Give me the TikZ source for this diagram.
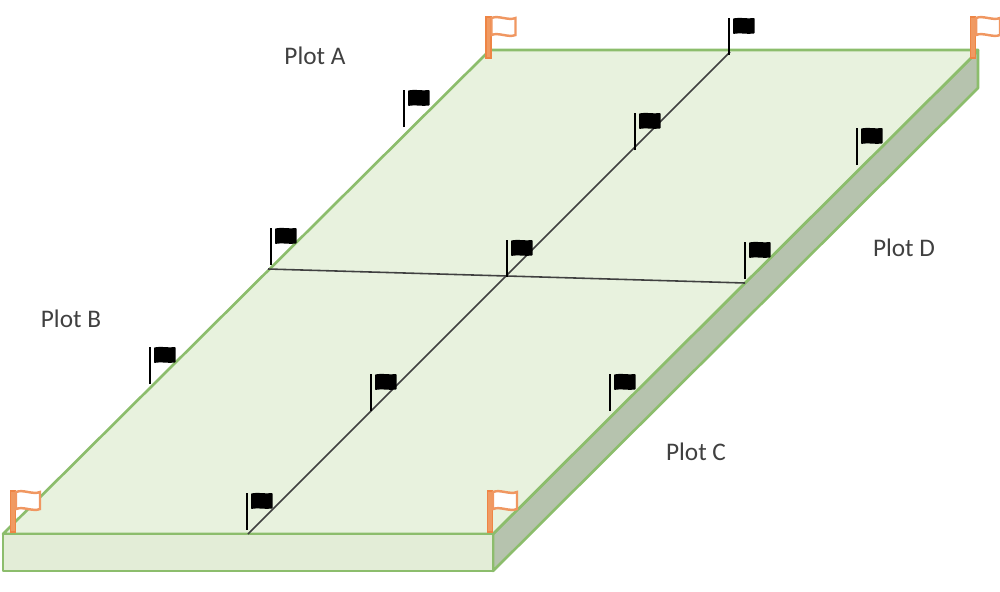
\documentclass[tikz,border=0pt]{standalone}
\usepackage{fontspec}
\setmainfont{Carlito}
\usepackage{tikz}

\definecolor{plotgreen}{HTML}{8CBD6C}
\definecolor{plotfill}{HTML}{E8F2DE}
\definecolor{frontfill}{HTML}{E3EDD7}
\definecolor{sidefill}{HTML}{B6C3AE}
\definecolor{flagorange}{HTML}{EE8545}
\definecolor{poleorange}{HTML}{F09A62}
\definecolor{labelgray}{HTML}{404040}

\tikzset{
	face/.style={draw=plotgreen,line width=0.75pt,line join=round},
	divide/.style={draw=black!75,line width=0.45pt},
	plotlabel/.style={text=labelgray,font=\fontsize{7.2pt}{9pt}\selectfont,inner sep=0pt},
	blackflag/.pic={
		\draw[black,line width=0.7pt] (0,0) -- (0,0.37);
		\fill[black,rounded corners=0.2pt] (0.04,0.365) .. controls (0.11,0.38) and (0.18,0.36) .. (0.255,0.37) -- (0.255,0.215) .. controls (0.18,0.205) and (0.11,0.225) .. (0.04,0.21) -- cycle;
	},
	orangeflag/.pic={
		\draw[flagorange,fill=poleorange,line width=0.4pt] (-0.025,0) rectangle (0.025,0.41);
		\draw[flagorange!85,fill=white,line width=0.7pt] (0.03,0.40) .. controls (0.10,0.43) and (0.20,0.37) .. (0.27,0.40) -- (0.27,0.23) .. controls (0.20,0.20) and (0.10,0.26) .. (0.03,0.23) -- cycle;
	}
}

\begin{document}
\begin{tikzpicture}

	\useasboundingbox (0,0) rectangle (10,5.91);

	% corners of the field
	\coordinate (nw) at (4.90, 5.41);
	\coordinate (ne) at (9.78, 5.41);
	\coordinate (sw) at (0.03, 0.57);
	\coordinate (se) at (4.93, 0.57);
	\coordinate (nei) at (9.71, 5.33);
	\coordinate (swb) at (0.03, 0.20);
	\coordinate (seb) at (4.93, 0.20);
	\coordinate (neb) at (9.78, 5.03);

	% ends of the dividing lines
	\coordinate (top) at (7.30, 5.39);
	\coordinate (bottom) at (2.48, 0.57);
	\coordinate (left) at (2.68, 3.22);
	\coordinate (middle) at (5.07, 3.15);
	\coordinate (right) at (7.45, 3.08);

	\filldraw[face,fill=sidefill] (se) -- (nei) -- (ne) -- (neb) -- (seb) -- cycle;
	\filldraw[face,fill=plotfill] (sw) -- (nw) -- (ne) -- (nei) -- (se) -- cycle;
	\filldraw[face,fill=frontfill] (sw) -- (se) -- (seb) -- (swb) -- cycle;

	\path[divide] (top) edge (bottom);
	\path[divide] (left) edge (middle);
	\path[divide] (middle) edge (right);

	\pic at (7.29, 5.36) {blackflag};
	\pic at (4.04, 4.64) {blackflag};
	\pic at (6.35, 4.41) {blackflag};
	\pic at (8.57, 4.26) {blackflag};
	\pic at (2.71, 3.26) {blackflag};
	\pic at (5.07, 3.14) {blackflag};
	\pic at (7.45, 3.12) {blackflag};
	\pic at (1.50, 2.07) {blackflag};
	\pic at (3.71, 1.80) {blackflag};
	\pic at (6.10, 1.80) {blackflag};
	\pic at (2.47, 0.61) {blackflag};

	\pic at (0.13, 0.59) {orangeflag};
	\pic at (4.90, 0.59) {orangeflag};
	\pic at (4.885, 5.33) {orangeflag};
	\pic at (9.73, 5.33) {orangeflag};

	\node[plotlabel] (plota) at (3.15, 5.35) {Plot A};
	\node[plotlabel] (plotb) at (0.71, 2.72) {Plot B};
	\node[plotlabel] (plotc) at (6.96, 1.39) {Plot C};
	\node[plotlabel] (plotd) at (9.04, 3.43) {Plot D};

\end{tikzpicture}
\end{document}
